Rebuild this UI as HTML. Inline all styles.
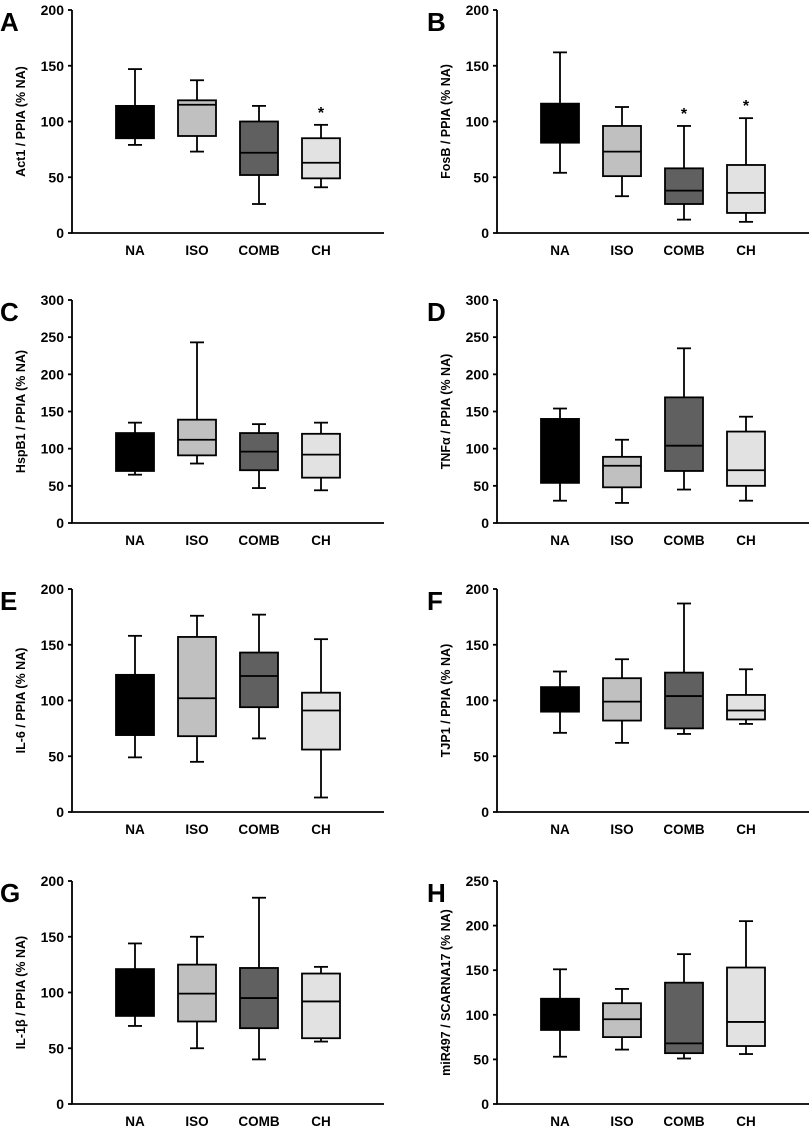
<!DOCTYPE html>
<html><head><meta charset="utf-8"><style>
body{margin:0;background:#fff;}
svg text{font-family:"Liberation Sans",Arial,sans-serif;font-weight:bold;fill:#000;}
</style></head><body>
<svg id="fig" width="812" height="1127" viewBox="0 0 812 1127" xmlns="http://www.w3.org/2000/svg"></svg>
<script>
const categories=["NA","ISO","COMB","CH"];
const panelLetters=["A","B","C","D","E","F","G","H"];
const yTitles=["Act1 / PPIA (% NA)","FosB / PPIA (% NA)","HspB1 / PPIA (% NA)","TNFα / PPIA (% NA)","IL-6 / PPIA (% NA)","TJP1 / PPIA (% NA)","IL-1β / PPIA (% NA)","miR497 / SCARNA17 (% NA)"];
const yMax=[200,200,300,300,200,200,200,250];
// each box: [whiskerLow, q1, median, q3, whiskerHigh]
const boxesA=[[79,85,100,114,147],[73,87,115,119,137],[26,52,72,100,114],[41,49,63,85,97]];
const boxesB=[[54,81,100,116,162],[33,51,73,96,113],[12,26,38,58,96],[10,18,36,61,103]];
const boxesC=[[65,70,100,121,135],[80,91,112,139,243],[47,71,96,121,133],[44,61,92,120,135]];
const boxesD=[[30,54,100,140,154],[27,48,77,89,112],[45,70,104,169,235],[30,50,71,123,143]];
const boxesE=[[49,69,100,123,158],[45,68,102,157,176],[66,94,122,143,177],[13,56,91,107,155]];
const boxesF=[[71,90,100,112,126],[62,82,99,120,137],[70,75,104,125,187],[79,83,91,105,128]];
const boxesG=[[70,79,100,121,144],[50,74,99,125,150],[40,68,95,122,185],[56,59,92,117,123]];
const boxesH=[[53,83,100,118,151],[61,75,95,113,129],[51,57,68,136,168],[56,65,92,153,205]];
const allBoxes=[boxesA,boxesB,boxesC,boxesD,boxesE,boxesF,boxesG,boxesH];
const stars=[[false,false,false,true],[false,false,true,true],[false,false,false,false],[false,false,false,false],[false,false,false,false],[false,false,false,false],[false,false,false,false],[false,false,false,false]];
const fills=["#000000","#c0c0c0","#606060","#e2e2e2"];
const NS="http://www.w3.org/2000/svg";
const svg=document.getElementById('fig');
function mk(tag,attrs,parent,txt){const e=document.createElementNS(NS,tag);for(const k in attrs)e.setAttribute(k,attrs[k]);if(txt!==undefined)e.textContent=txt;parent.appendChild(e);return e;}
const bottoms=[233,523,812,1104];
const plotH=223;
const SW=1.8;
for(let p=0;p<8;p++){
  const col=p%2,row=Math.floor(p/2);
  const ox=72+col*425,bot=bottoms[row],top=bot-plotH;
  const xEnd=ox+312;
  const y=v=>bot-v/yMax[p]*plotH;
  const x=i=>ox+63+i*62;
  const g=mk('g',{},svg);
  
  
  const L=mk('text',{x:ox-72+(col?2:0),y:top+21,'font-size':26},g,panelLetters[p]);
  
  
  const ax=mk('path',{d:`M${ox},${top}V${bot}H${xEnd}`,stroke:'#000','stroke-width':SW,fill:'none'},g);
  
  
  for(let v=0;v<=yMax[p];v+=50){
    mk('line',{x1:ox-4,x2:ox,y1:y(v),y2:y(v),stroke:'#000','stroke-width':SW},g);
    const t=mk('text',{x:ox-8,y:y(v)+5,'font-size':14,'text-anchor':'end'},g,String(v));
    
    
  }
  const yt=mk('text',{x:0,y:0,'font-size':12.5,'text-anchor':'middle',transform:`translate(${ox-47},${(top+bot)/2}) rotate(-90)`},g,yTitles[p]);
  
  
  allBoxes[p].forEach((b,i)=>{
    const cx=x(i),w=38;
    const bg=mk('g',{},g);
    
    
    mk('line',{x1:cx,x2:cx,y1:y(b[0]),y2:y(b[4]),stroke:'#000','stroke-width':SW},bg);
    mk('line',{x1:cx-7,x2:cx+7,y1:y(b[0]),y2:y(b[0]),stroke:'#000','stroke-width':SW},bg);
    mk('line',{x1:cx-7,x2:cx+7,y1:y(b[4]),y2:y(b[4]),stroke:'#000','stroke-width':SW},bg);
    mk('rect',{x:cx-w/2,y:y(b[3]),width:w,height:y(b[1])-y(b[3]),fill:fills[i],stroke:'#000','stroke-width':SW},bg);
    mk('line',{x1:cx-w/2,x2:cx+w/2,y1:y(b[2]),y2:y(b[2]),stroke:'#000','stroke-width':SW},bg);
    if(stars[p][i]){const s=mk('text',{x:cx,y:y(b[4])-7,'font-size':16,'text-anchor':'middle'},bg,'*');
      
      }
    const c=mk('text',{x:cx,y:bot+22,'font-size':13.5,'text-anchor':'middle'},g,categories[i]);
    
    
  });
}
</script>
</body></html>
